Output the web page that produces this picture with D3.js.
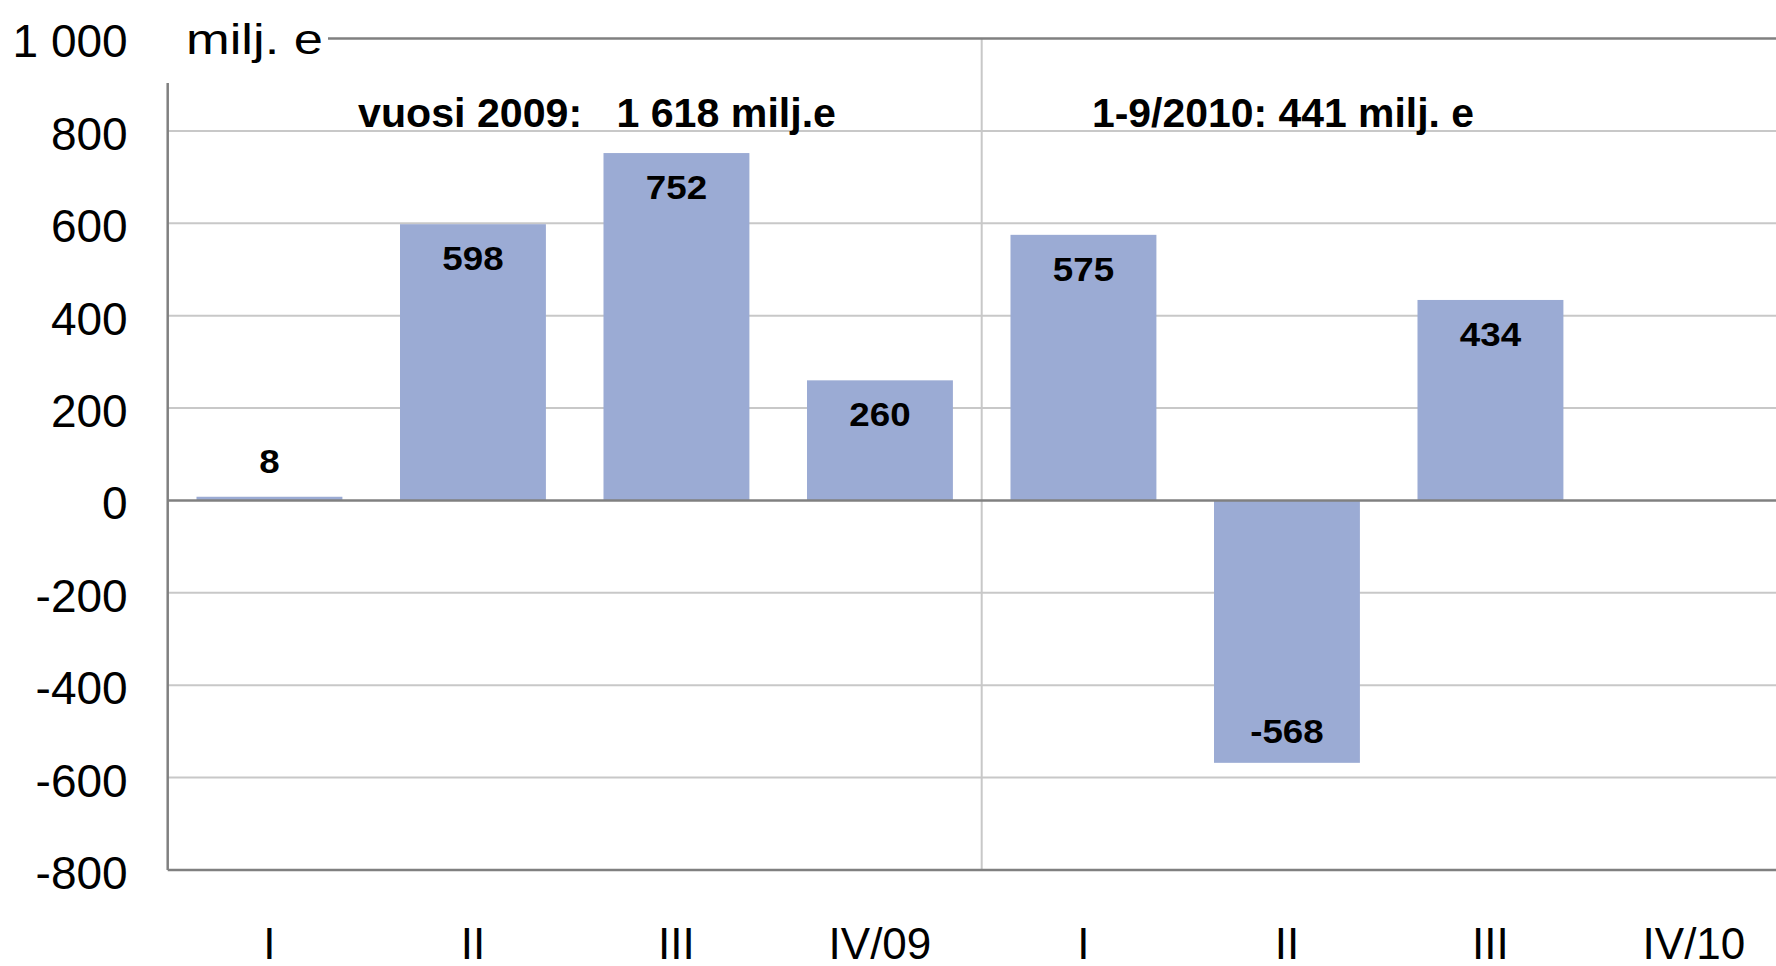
<!DOCTYPE html>
<html lang="fi">
<head>
<meta charset="UTF-8">
<title>milj. e</title>
<script src="https://d3js.org/d3.v7.min.js"></script>
<style>
  body { margin: 0; background: #fff; }
  svg { display: block; font-family: "Liberation Sans", Arial, sans-serif; }
  .tick text { fill: #000; }
</style>
</head>
<body>
<svg id="chart" width="1776" height="966"></svg>
<script>
// quarters, 2009 and 2010
const categories = ["I", "II", "III", "IV/09", "I", "II", "III", "IV/10"];
const values = [8, 598, 752, 260, 575, -568, 434, null];
const yTicks = [-800, -600, -400, -200, 0, 200, 400, 600, 800, 1000];
const unitLabel = "milj. e";
const notes = ["vuosi 2009:   1 618 milj.e", "1-9/2010: 441 milj. e"];

const W = 1776, H = 966;
const plotLeft = 167.7, plotRight = 1795.7, plotTop = 38.5, plotBottom = 870;

const svg = d3.select("#chart");

const fi = d3.formatLocale({ decimal: ",", thousands: "\u00a0", grouping: [3], currency: ["", ""], minus: "-" });
const fmt = fi.format(",");

const x = d3.scaleBand()
  .domain(d3.range(categories.length))
  .range([plotLeft, plotRight])
  .paddingInner(0.283)
  .paddingOuter(0.1415);

const y = d3.scaleLinear().domain([-800, 1000]).range([plotBottom, plotTop]);

// light gridlines
svg.append("g")
  .selectAll("line")
  .data(yTicks.filter(t => t > -800 && t < 1000 && t !== 0))
  .join("line")
  .attr("x1", plotLeft).attr("x2", W)
  .attr("y1", d => y(d)).attr("y2", d => y(d))
  .attr("stroke", "#c8c8c8").attr("stroke-width", 2);

// divider between years
const divX = x(4) - x.step() * x.paddingInner() / 2;
svg.append("line")
  .attr("x1", divX).attr("x2", divX)
  .attr("y1", y(1000)).attr("y2", y(-800))
  .attr("stroke", "#c8c8c8").attr("stroke-width", 2);

// bars
const barData = values.map((v, i) => ({ i, v })).filter(d => d.v !== null);
svg.append("g")
  .selectAll("rect")
  .data(barData)
  .join("rect")
  .attr("x", d => x(d.i))
  .attr("width", x.bandwidth())
  .attr("y", d => y(Math.max(0, d.v)))
  .attr("height", d => Math.abs(y(d.v) - y(0)))
  .attr("fill", "#9babd4");

// axis lines
svg.append("line")
  .attr("x1", plotLeft).attr("x2", W)
  .attr("y1", y(0)).attr("y2", y(0))
  .attr("stroke", "#808080").attr("stroke-width", 2.5);
svg.append("line")
  .attr("x1", plotLeft).attr("x2", W)
  .attr("y1", y(-800)).attr("y2", y(-800))
  .attr("stroke", "#808080").attr("stroke-width", 2.5);
svg.append("line")
  .attr("x1", plotLeft).attr("x2", plotLeft)
  .attr("y1", 83).attr("y2", y(-800))
  .attr("stroke", "#808080").attr("stroke-width", 2.5);
svg.append("line")
  .attr("x1", 328).attr("x2", W)
  .attr("y1", y(1000)).attr("y2", y(1000))
  .attr("stroke", "#808080").attr("stroke-width", 2.5);

// y tick labels
const yAxis = svg.append("g")
  .attr("transform", `translate(${plotLeft},0)`)
  .call(d3.axisLeft(y).tickValues(yTicks).tickFormat(fmt).tickSize(0).tickPadding(40));
yAxis.select(".domain").remove();
yAxis.selectAll("text")
  .attr("font-size", 46)
  .attr("dy", "0.4em")
  .attr("font-family", "Liberation Sans, Arial, sans-serif");

// unit label (a bit wide in the original)
svg.append("text")
  .attr("x", 186).attr("y", y(1000) + 15)
  .attr("font-size", 43)
  .attr("textLength", 137)
  .attr("lengthAdjust", "spacingAndGlyphs")
  .text(unitLabel);

// x tick labels
svg.append("g")
  .selectAll("text")
  .data(categories)
  .join("text")
  .attr("x", (d, i) => x(i) + x.bandwidth() / 2)
  .attr("y", 959)
  .attr("text-anchor", "middle")
  .attr("font-size", 44)
  .text(d => d);

// value labels
svg.append("g")
  .selectAll("text")
  .data(barData)
  .join("text")
  .attr("x", d => x(d.i) + x.bandwidth() / 2)
  .attr("y", d => d.v < 0 ? y(d.v) - 20 : (d.v < 100 ? y(d.v) - 24 : y(d.v) + 46))
  .attr("text-anchor", "middle")
  .attr("font-size", 34)
  .attr("font-weight", "bold")
  .text(d => d.v)
  .each(function () {
    const w = this.getComputedTextLength();
    d3.select(this).attr("textLength", w * 1.08).attr("lengthAdjust", "spacingAndGlyphs");
  });

// period totals
svg.append("text")
  .attr("x", 358).attr("y", 127)
  .attr("font-size", 40)
  .attr("font-weight", "bold")
  .attr("textLength", 478)
  .attr("lengthAdjust", "spacingAndGlyphs")
  .style("white-space", "pre")
  .text(notes[0]);
svg.append("text")
  .attr("x", 1092).attr("y", 127)
  .attr("font-size", 40)
  .attr("font-weight", "bold")
  .attr("textLength", 382)
  .attr("lengthAdjust", "spacingAndGlyphs")
  .text(notes[1]);
</script>
</body>
</html>
